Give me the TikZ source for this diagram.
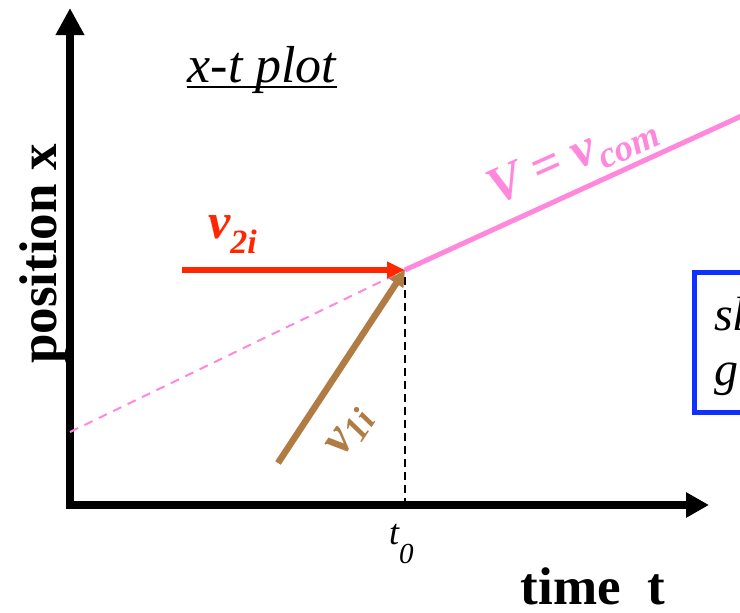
\documentclass[tikz,border=0pt]{standalone}
\usepackage{fontspec}
\setmainfont{Liberation Serif}
\usetikzlibrary{arrows.meta}
\definecolor{vred}{RGB}{255,38,0}
\definecolor{vbrown}{RGB}{176,124,68}
\definecolor{vpink}{RGB}{255,136,220}
\definecolor{vblue}{RGB}{16,48,255}
\begin{document}
\begin{tikzpicture}[x=1pt,y=-1pt,
  axisline/.style={line width=8pt},
  axislabel/.style={inner sep=0pt,font=\fontsize{53}{60}\selectfont\bfseries},
  vlabel/.style={inner sep=0pt,font=\fontsize{50}{54}\selectfont\bfseries\itshape},
  plain/.style={inner sep=0pt,font=\fontsize{48}{52}\selectfont\itshape},
  dashpink/.style={vpink,line width=2pt,dash pattern=on 9pt off 7pt},
  dashblack/.style={black,line width=2.5pt,dash pattern=on 8pt off 5pt},
]
\useasboundingbox (0,0) rectangle (740,613);
\begin{scope}
\clip (0,0) rectangle (740,613);
% coordinates
\coordinate (O) at (70,505);
\coordinate (ytip) at (70,8);
\coordinate (xtip) at (709,505);
\coordinate (P) at (405,270);
\coordinate (Y0) at (70,432);
\coordinate (Pend) at (770,103);
\coordinate (Rs) at (182,270);
\coordinate (Bs) at (278,463);
\coordinate (T0) at (405,505);
\coordinate (Dtop) at (405,277);
% axes
\draw[axisline,-{Triangle[length=27pt,width=27pt]}] (70,509) -- (ytip);
\draw[axisline,-{Triangle[length=23pt,width=24pt]}] (66,505) -- (xtip);
% lines
\draw[dashpink] (Y0) -- (P);
\draw[vpink,line width=5pt] (P) -- (Pend);
\draw[dashblack] (Dtop) -- (T0);
\draw[vred,line width=6pt,-{Triangle[length=18pt,width=16pt]}] (Rs) -- (P);
\draw[vbrown,line width=6.5pt,-{Triangle[length=16pt,width=16pt]}] (Bs) -- (P);
% blue box
\draw[vblue,line width=5pt] (694,272) rectangle (820,412);
\node[plain,anchor=base west] (sl) at (714,330) {sl};
\node[plain,anchor=base west] (g) at (714,385) {g};
% labels
\node[plain,anchor=base,font=\fontsize{52}{56}\selectfont\itshape] (ttl) at (262,82) {x-t plot};
\draw[line width=2.5pt] ([yshift=-5pt]ttl.base west) -- ([yshift=-5pt]ttl.base east);
\node[axislabel,rotate=90] (ylab) at (44,254) {position x};
\node[axislabel,anchor=base] (xlab) at (593,604) {time\ \ t};
\node[inner sep=0pt,anchor=base west,font=\fontsize{36}{40}\selectfont\itshape] (t0) at (389,544) {t\raisebox{-19pt}{\fontsize{29}{32}\selectfont 0}};
\node[vlabel,vred,anchor=base west] (v2) at (208,238) {v\raisebox{-15pt}{\fontsize{34}{36}\selectfont 2i}};
\node[vlabel,vpink,rotate=24,anchor=base west,font=\fontsize{52}{56}\selectfont\bfseries\itshape] (vcom) at (496,206) {V = v\raisebox{-11pt}{\fontsize{37}{40}\selectfont com}};
\node[vlabel,vbrown,rotate=56,anchor=base west,font=\fontsize{50}{54}\selectfont\bfseries\itshape] (v1) at (343,458) {v\raisebox{-7pt}{\fontsize{36}{38}\selectfont 1i}};
\end{scope}
\end{tikzpicture}
\end{document}
